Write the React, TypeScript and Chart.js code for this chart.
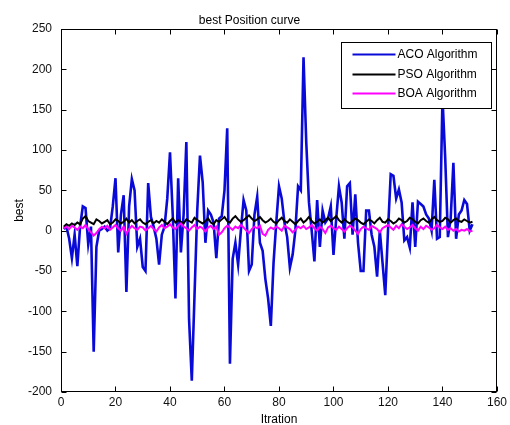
import React, { useEffect, useRef } from "react";
import { Chart, registerables } from "chart.js";

Chart.register(...registerables);

const title = "best Position curve";
const xTitle = "Itration";
const yTitle = "best";
const seriesNames = ["ACO Algorithm", "PSO Algorithm", "BOA Algorithm"];
const seriesColors = ["#0a0ad8", "#000000", "#ff00ff"];

const xTicks = [0, 20, 40, 60, 80, 100, 120, 140, 160];
const yTicks = [-200, -150, -100, -50, 0, 50, 100, 150, 200, 250];

const acoValues = [
  2, 5, -10, -34, -5, -44, 5, 30, 28, -17,
  5, -150, -20, 0, 2, 5, 0, 3, 30, 65,
  -27, 20, 44, -76, 30, 64, 50, -20, -10, -45,
  -50, 59, 17, 5, -10, -42, -5, 5, 40, 97,
  20, -84, 65, -27, 20, 110, -110, -186, -80, 25,
  93, 60, -15, 25, 20, 10, -34, 15, 18, 50,
  127, -165, -35, -15, -42, 0, 38, 25, -50, -42,
  20, 42, -15, -25, -60, -84, -118, -40, 10, 55,
  40, 10, -8, -46, -30, 0, 55, 50, 215, 110,
  35, 0, -38, 38, -20, 25, 10, 15, 30, -30,
  15, 55, 35, -10, 55, 59, -5, 45, -15, -50,
  -50, 25, 25, -5, -20, -57, 0, -40, -80, 0,
  70, 68, 40, 51, 35, -12, -8, -21, 35, -20,
  36, 33, 30, 20, 15, 0, 63, -10, -8, 165,
  90, -8, 15, 84, -10, 20, 25, 38, 33, 0,
  8,
];

const psoValues = [
  5, 8, 6, 9, 7, 10, 8, 15, 18, 12,
  10, 8, 14, 12, 9, 11, 13, 8, 10, 14,
  12, 9, 11, 15, 10, 13, 9, 12, 14, 10,
  8, 11, 13, 9, 12, 10, 14, 11, 8, 12,
  15, 10, 13, 11, 9, 14, 12, 10, 16, 13,
  11, 9, 12, 15, 10, 8, 13, 11, 14, 17,
  12, 10, 15, 18, 14, 11, 13, 16, 19, 15,
  12, 14, 17, 13, 10, 12, 15, 11, 9, 13,
  16, 12, 10, 14, 11, 8, 12, 15, 10, 13,
  17, 12, 9, 11, 14, 10, 13, 16, 12, 15,
  18, 13, 10, 14, 11, 9, 12, 15, 13, 10,
  8, 11, 14, 12, 9, 13, 16, 11, 10, 14,
  12, 9, 11, 15, 13, 10, 12, 16, 14, 11,
  9, 13, 15, 12, 10, 14, 17, 13, 11, 12,
  16, 14, 10, 13, 15, 12, 11, 14, 12, 10,
  11,
];

const boaValues = [
  3, 5, 2, 6, 4, 1, 5, 3, 7, 2,
  -2, -6, -3, 2, 5, 3, 6, 1, 4, 7,
  3, 0, 5, -4, 2, 6, 3, 1, 5, 4,
  0, 3, 6, 2, -1, 4, 7, 3, 5, 8,
  4, 2, 6, 9, 5, 3, 0, 4, 7, 2,
  5, 3, -1, 4, 6, 2, 5, -5, -2, 3,
  6, 4, 1, 5, 3, 7, 4, 0, -3, 2,
  5, 3, 6, -4, -6, 1, 4, 2, 5, 3,
  0, 6, 4, 2, -2, 1, 5, 3, 6, 2,
  4, 7, 3, 0, 5, 2, -3, 4, 6, 3,
  1, 5, 2, -1, 3, 6, 4, 0, -4, 2,
  5, 3, 1, 6, 4, 2, -2, 3, 5, 7,
  4, 1, 6, 3, 8, 5, 2, 4, 7, 3,
  0, 5, 2, 6, 4, 1, 3, 7, 4, 2,
  5, 1, 3, 0, 2, -1, 1, 0, 2, -1,
  0,
];

const FONT = "'Liberation Sans', Arial, sans-serif";

const toPoints = (vals: number[]) => vals.map((v, i) => ({ x: i + 1, y: v }));

const framePlugin = {
  id: "matlabFrame",
  afterDatasetsDraw(chart: any) {
    const { ctx, chartArea: a, scales } = chart;
    ctx.save();
    ctx.strokeStyle = "#000";
    ctx.lineWidth = 1;
    const L = Math.round(a.left) + 0.5;
    const R = Math.round(a.right) - 0.5;
    const T = Math.round(a.top) + 0.5;
    const B = Math.round(a.bottom) - 0.5;
    ctx.strokeRect(L, T, R - L, B - T);
    const tl = 5;
    ctx.beginPath();
    for (const v of xTicks) {
      const px = Math.round(scales.x.getPixelForValue(v)) + 0.5;
      ctx.moveTo(px, B);
      ctx.lineTo(px, B - tl);
      ctx.moveTo(px, T);
      ctx.lineTo(px, T + tl);
    }
    for (const v of yTicks) {
      const py = Math.round(scales.y.getPixelForValue(v)) + 0.5;
      ctx.moveTo(L, py);
      ctx.lineTo(L + tl, py);
      ctx.moveTo(R, py);
      ctx.lineTo(R - tl, py);
    }
    ctx.stroke();

    // legend box
    const w = 150;
    const h = 66;
    const bx = Math.round(a.right) - 6 - w + 0.5;
    const by = Math.round(a.top) + 13 + 0.5;
    ctx.fillStyle = "#fff";
    ctx.fillRect(bx, by, w, h);
    ctx.strokeStyle = "#000";
    ctx.lineWidth = 1;
    ctx.strokeRect(bx, by, w, h);
    const rows = [12, 32, 51];
    ctx.font = `12px ${FONT}`;
    ctx.textBaseline = "middle";
    ctx.textAlign = "left";
    chart.data.datasets.forEach((ds: any, i: number) => {
      const y = by + rows[i];
      ctx.beginPath();
      ctx.strokeStyle = ds.borderColor;
      ctx.lineWidth = 2;
      ctx.moveTo(bx + 11, y);
      ctx.lineTo(bx + 54, y);
      ctx.stroke();
      ctx.fillStyle = "#000";
      ctx.fillText(ds.label, bx + 56, y);
    });
    ctx.restore();
  },
};

export default function App() {
  const ref = useRef<HTMLCanvasElement | null>(null);
  useEffect(() => {
    if (!ref.current) return;
    const chart = new Chart(ref.current, {
      type: "line",
      data: {
        datasets: [
          {
            label: seriesNames[0],
            data: toPoints(acoValues),
            borderColor: seriesColors[0],
            borderWidth: 2.6,
            pointRadius: 0,
            tension: 0,
            order: 2,
          },
          {
            label: seriesNames[1],
            data: toPoints(psoValues),
            borderColor: seriesColors[1],
            borderWidth: 2,
            pointRadius: 0,
            tension: 0,
            order: 1,
          },
          {
            label: seriesNames[2],
            data: toPoints(boaValues),
            borderColor: seriesColors[2],
            borderWidth: 2,
            pointRadius: 0,
            tension: 0,
            order: 0,
          },
        ],
      },
      options: {
        animation: false,
        responsive: true,
        maintainAspectRatio: false,
        layout: { padding: { left: 0, right: 11, top: 0, bottom: 0 } },
        plugins: {
          legend: { display: false },
          tooltip: { enabled: false },
          title: {
            display: true,
            text: title,
            color: "#000",
            font: { family: FONT, size: 12, weight: "normal" },
            padding: { top: 13, bottom: 1.6 },
          },
        },
        scales: {
          x: {
            type: "linear",
            min: 0,
            max: 160,
            afterBuildTicks: (s: any) => {
              s.ticks = xTicks.map((v) => ({ value: v }));
            },
            afterFit: (s: any) => {
              s.height = 33;
            },
            grid: { display: false, drawTicks: false },
            border: { display: false },
            ticks: {
              color: "#111",
              padding: 3,
              maxRotation: 0,
              font: { family: FONT, size: 12 },
            },
            title: {
              display: true,
              text: xTitle,
              color: "#000",
              padding: { top: 0, bottom: -2 },
              font: { family: FONT, size: 12 },
            },
          },
          y: {
            type: "linear",
            min: -200,
            max: 250,
            afterBuildTicks: (s: any) => {
              s.ticks = yTicks.map((v) => ({ value: v }));
            },
            afterFit: (s: any) => {
              s.width = 61;
            },
            grid: { display: false, drawTicks: false },
            border: { display: false },
            ticks: {
              color: "#111",
              padding: 9,
              font: { family: FONT, size: 12 },
            },
            title: {
              display: true,
              text: yTitle,
              color: "#000",
              padding: { top: 12, bottom: 0 },
              font: { family: FONT, size: 12 },
            },
          },
        },
      },
      plugins: [framePlugin],
    });
    return () => chart.destroy();
  }, []);
  return (
    <div
      style={{
        position: "fixed",
        left: 0,
        top: 0,
        width: 510,
        height: 425,
        background: "#fff",
      }}
    >
      <canvas ref={ref} />
    </div>
  );
}
